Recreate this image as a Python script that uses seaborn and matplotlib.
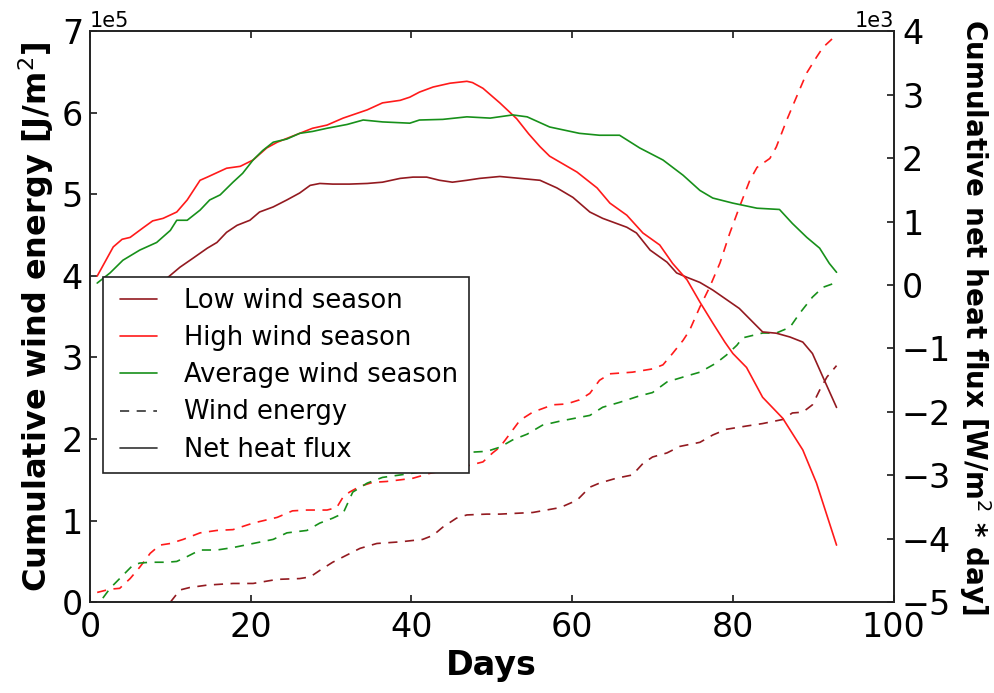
import numpy as np
import matplotlib
matplotlib.use('Agg')
import matplotlib.pyplot as plt
from matplotlib.lines import Line2D
from matplotlib.legend_handler import HandlerLine2D
import seaborn as sns

# --- data ---
# wind energy (dashed, left axis), units of 1e5 J/m^2
low_energy_days = [10, 11.2, 12.4, 14.6, 17.8, 20.3, 23.3, 26.1, 27.4, 28.6, 30.2, 32.0, 33.6, 35.7, 38.6,
                   41.4, 42.7, 43.9, 45.6, 46.9, 49.4, 51.0, 55.1, 58.5, 60.6, 62.2, 63.4, 65.5, 67.5, 68.8,
                   70.0, 71.8, 73.4, 75.9, 77.5, 79.2, 81.7, 83.7, 86.2, 87.4, 88.7, 89.9, 90.8, 91.7, 92.9]
low_energy = [0.0, 0.15, 0.18, 0.21, 0.23, 0.23, 0.28, 0.29, 0.31, 0.39, 0.49, 0.58, 0.66, 0.72, 0.74,
              0.77, 0.82, 0.92, 1.03, 1.07, 1.08, 1.08, 1.10, 1.16, 1.25, 1.41, 1.46, 1.52, 1.56, 1.70,
              1.78, 1.83, 1.91, 1.96, 2.05, 2.12, 2.16, 2.19, 2.24, 2.32, 2.33, 2.42, 2.60, 2.76, 2.90]

high_energy_days = [0.9, 2.5, 3.7, 5.0, 6.2, 7.5, 8.7, 10.0, 11.6, 13.7, 15.8, 17.8, 20.3, 23.3, 25.2,
                    27.0, 29.5, 30.7, 31.5, 32.3, 33.6, 35.2, 36.9, 38.6, 40.2, 42.3, 44.4, 46.9, 48.9,
                    50.1, 51.0, 52.6, 53.5, 55.1, 57.6, 59.3, 60.9, 62.2, 63.4, 64.7, 67.5, 70.0, 71.3,
                    72.5, 73.8, 74.6, 75.9, 77.1, 78.4, 79.6, 80.8, 82.1, 83.0, 84.6, 85.4, 86.7, 87.9,
                    89.2, 90.4, 91.2, 92.4, 92.9]
high_energy = [0.12, 0.16, 0.17, 0.29, 0.43, 0.60, 0.70, 0.72, 0.77, 0.85, 0.88, 0.89, 0.97, 1.04, 1.12,
               1.13, 1.13, 1.16, 1.29, 1.35, 1.42, 1.47, 1.48, 1.50, 1.52, 1.58, 1.62, 1.67, 1.72,
               1.83, 1.90, 2.11, 2.23, 2.33, 2.42, 2.43, 2.48, 2.56, 2.72, 2.80, 2.82, 2.86, 2.91,
               3.05, 3.21, 3.33, 3.62, 3.86, 4.16, 4.52, 4.84, 5.17, 5.33, 5.44, 5.58, 5.91, 6.19,
               6.49, 6.68, 6.80, 6.91, 6.96]

avg_energy_days = [1.6, 2.5, 3.7, 5.3, 6.2, 7.5, 9.6, 10.8, 12.1, 13.7, 15.8, 17.8, 20.3, 22.8, 24.5,
                   27.0, 28.6, 30.2, 31.5, 32.7, 34.5, 36.4, 38.6, 40.7, 42.7, 45.6, 47.6, 49.4, 51.0,
                   52.6, 54.4, 56.3, 58.5, 60.6, 62.2, 63.8, 65.9, 68.4, 70.0, 71.8, 73.8, 75.9, 77.9,
                   79.2, 80.5, 81.2, 83.7, 85.4, 87.1, 88.3, 89.9, 91.2, 92.9]
avg_energy = [0.05, 0.17, 0.29, 0.45, 0.48, 0.49, 0.49, 0.50, 0.56, 0.64, 0.64, 0.67, 0.72, 0.77, 0.85,
              0.88, 0.97, 1.03, 1.09, 1.35, 1.46, 1.53, 1.56, 1.59, 1.64, 1.72, 1.84, 1.85, 1.90,
              1.99, 2.06, 2.17, 2.22, 2.26, 2.29, 2.39, 2.45, 2.53, 2.57, 2.70, 2.76, 2.82, 2.93,
              3.03, 3.15, 3.24, 3.30, 3.30, 3.37, 3.54, 3.74, 3.86, 3.92]

# net heat flux (solid, right axis), units of 1e3 W/m^2 * day
low_flux_days = [9.7, 11.2, 12.8, 14.6, 15.8, 17.0, 18.3, 19.9, 21.1, 22.8, 24.5, 26.1, 27.4, 28.6, 30.2,
                 32.3, 34.5, 36.4, 38.6, 40.2, 41.9, 43.5, 45.1, 46.9, 48.5, 51.0, 53.5, 56.0, 58.1,
                 60.1, 62.2, 63.8, 66.8, 68.0, 69.7, 71.8, 73.0, 74.3, 75.9, 77.5, 80.8, 83.7, 85.4,
                 87.1, 88.7, 89.9, 91.2, 92.9]
low_flux = [0.12, 0.28, 0.42, 0.58, 0.67, 0.83, 0.94, 1.02, 1.15, 1.23, 1.34, 1.45, 1.57, 1.60, 1.59,
            1.59, 1.60, 1.62, 1.68, 1.70, 1.70, 1.65, 1.62, 1.65, 1.68, 1.71, 1.68, 1.65, 1.53,
            1.38, 1.15, 1.05, 0.91, 0.82, 0.55, 0.36, 0.19, 0.12, 0.04, -0.08, -0.37, -0.74, -0.76,
            -0.82, -0.90, -1.08, -1.45, -1.93]

high_flux_days = [0.9, 2.9, 4.0, 5.0, 6.6, 7.8, 9.1, 10.8, 12.1, 13.7, 14.6, 17.0, 18.7, 20.3, 22.0,
                  23.3, 24.9, 26.1, 27.7, 29.5, 31.5, 34.5, 36.4, 38.6, 39.8, 41.0, 42.7, 44.8, 46.9,
                  47.6, 48.9, 51.0, 53.1, 54.6, 56.0, 57.2, 60.6, 63.1, 64.7, 66.8, 68.8, 70.9, 72.5,
                  74.3, 75.9, 77.5, 79.0, 80.0, 81.7, 83.7, 86.2, 87.4, 88.7, 90.4, 92.9]
high_flux = [0.14, 0.60, 0.72, 0.75, 0.90, 1.01, 1.05, 1.15, 1.34, 1.65, 1.70, 1.84, 1.87, 1.97, 2.16,
             2.25, 2.33, 2.39, 2.47, 2.52, 2.63, 2.76, 2.87, 2.91, 2.96, 3.04, 3.12, 3.18, 3.21,
             3.19, 3.10, 2.87, 2.62, 2.38, 2.18, 2.03, 1.78, 1.53, 1.29, 1.10, 0.82, 0.63, 0.34,
             0.08, -0.27, -0.60, -0.90, -1.08, -1.30, -1.77, -2.10, -2.34, -2.60, -3.12, -4.10]

avg_flux_days = [0.9, 2.5, 4.1, 6.2, 8.3, 10.0, 10.8, 12.1, 13.7, 14.9, 16.2, 17.8, 19.0, 20.3, 21.5,
                 22.8, 24.5, 26.1, 27.7, 29.5, 32.0, 34.0, 36.4, 39.8, 41.0, 43.9, 46.9, 49.8, 52.6,
                 54.4, 57.2, 60.9, 63.4, 65.9, 68.4, 71.3, 73.8, 75.9, 77.5, 80.0, 83.0, 85.8, 87.4,
                 89.2, 90.8, 92.0, 92.9]
avg_flux = [0.03, 0.19, 0.39, 0.55, 0.67, 0.86, 1.02, 1.02, 1.18, 1.34, 1.42, 1.62, 1.76, 1.97, 2.12,
            2.25, 2.30, 2.39, 2.42, 2.47, 2.53, 2.60, 2.57, 2.55, 2.60, 2.61, 2.65, 2.63, 2.68,
            2.65, 2.49, 2.39, 2.36, 2.36, 2.16, 1.97, 1.73, 1.49, 1.37, 1.29, 1.21, 1.19, 0.97,
            0.75, 0.58, 0.34, 0.20]

season_labels = ['Low wind season', 'High wind season', 'Average wind season']
season_colors = ['#931a20', '#ff1a1a', '#17901a']

sns.set_theme(style='ticks')
plt.rcParams['font.family'] = ['DejaVu Sans']
plt.rcParams['xtick.direction'] = 'in'
plt.rcParams['ytick.direction'] = 'in'
plt.rcParams['axes.edgecolor'] = '#222222'
plt.rcParams['axes.linewidth'] = 1.2
for key in ['text.color', 'axes.labelcolor', 'xtick.color', 'ytick.color']:
    plt.rcParams[key] = 'black'

fig = plt.figure(figsize=(9.94, 6.93), dpi=100)
ax = fig.add_axes([0.0905, 0.131, 0.8085, 0.824])
ax2 = ax.twinx()

dash = (0, (5.5, 4.5))
energy = [(low_energy_days, low_energy), (high_energy_days, high_energy), (avg_energy_days, avg_energy)]
flux = [(low_flux_days, low_flux), (high_flux_days, high_flux), (avg_flux_days, avg_flux)]

for (d, v), c in zip(energy, season_colors):
    sns.lineplot(x=d, y=np.array(v) * 1e5, ax=ax, color=c, linestyle=dash, linewidth=1.2,
                 errorbar=None, sort=False)
for (d, v), c in zip(flux, season_colors):
    sns.lineplot(x=d, y=np.array(v) * 1e3, ax=ax2, color=c, linewidth=1.2,
                 errorbar=None, sort=False)

ax.set_xlim(0, 100)
ax.set_ylim(0, 7e5)
ax2.set_ylim(-5e3, 4e3)
ax.set_xticks(np.arange(0, 101, 20))
ax.set_yticks(np.arange(0, 7.1e5, 1e5))
ax2.set_yticks(np.arange(-5e3, 4.1e3, 1e3))
ax.ticklabel_format(axis='y', style='sci', scilimits=(0, 0))
ax2.ticklabel_format(axis='y', style='sci', scilimits=(0, 0))

ax.tick_params(axis='x', top=True, labelsize=24, length=5, pad=6, color='#222222')
ax.tick_params(axis='y', labelsize=24, length=5, pad=5, color='#222222')
ax2.tick_params(axis='y', labelsize=24, length=5, pad=6, color='#222222')
ax.yaxis.get_offset_text().set_fontsize(15)
ax2.yaxis.get_offset_text().set_fontsize(15)

ax.set_xlabel('Days', fontsize=24, fontweight='bold')
ax.set_ylabel('Cumulative wind energy [J/m$^2$]', fontsize=23, fontweight='bold')
ax2.set_ylabel('Cumulative net heat flux [W/m$^2$ * day]', fontsize=20, fontweight='bold',
               rotation=270, labelpad=30)

handles = [Line2D([], [], color=c, lw=1.2) for c in season_colors]
handles.append(Line2D([], [], color='#333333', lw=1.2, linestyle=dash))
handles.append(Line2D([], [], color='#333333', lw=1.2))
labels = season_labels + ['Wind energy', 'Net heat flux']
leg = ax2.legend(handles, labels, loc='upper left', bbox_to_anchor=(0.016, 0.569), borderaxespad=0,
                 fontsize=18.5, frameon=True, fancybox=False, framealpha=1, edgecolor='#222222',
                 handlelength=1.72, handletextpad=1.05, labelspacing=0.44, borderpad=0.4,
                 handler_map={Line2D: HandlerLine2D(xpad=0.27)})
leg.get_frame().set_linewidth(1.2)

fig.savefig('out.png', dpi=100)
